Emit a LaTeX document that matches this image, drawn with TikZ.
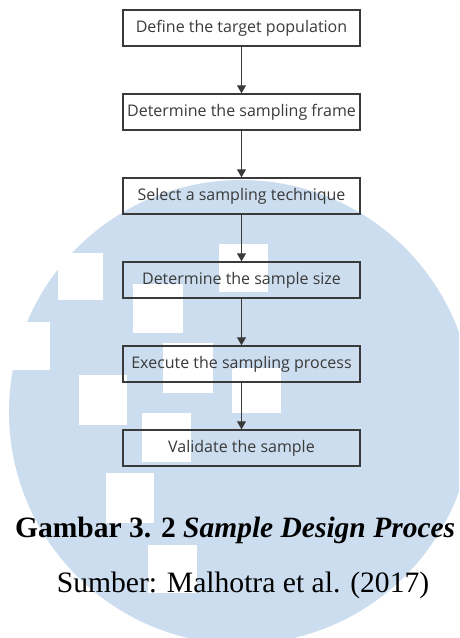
\documentclass[tikz,border=0pt]{standalone}
\usepackage{fontspec}
\setmainfont{Liberation Serif}
\newfontfamily\boxfont{Open Sans}
\usetikzlibrary{arrows.meta}
\definecolor{wmblue}{RGB}{203,221,238}
\definecolor{inkgray}{RGB}{58,58,58}

\begin{document}
\begin{tikzpicture}[x=1pt,y=-1pt,
  stepbox/.style={draw=inkgray, line width=1.4pt, minimum width=237pt,
    minimum height=36pt, inner sep=0pt, text=inkgray,
    font=\boxfont\fontsize{16}{19}\selectfont},
  flow/.style={draw=inkgray, line width=1.1pt,
    -{Triangle[width=9pt,length=8pt]}},
  wmsquare/.style={fill=white}]
\useasboundingbox (0,0) rectangle (459,638);

% background emblem: pale disc with white squares
\begin{scope}
  \clip (0,0) rectangle (459,638);
  \fill[wmblue] (241,412) circle[radius=232];
  \foreach \xa/\ya/\xb/\yb in {58/253/103/300, 133/284/183/333, 219/244/268/292,
      0/322/50/370, 163/343/213/393, 232/368/281/413, 79/375/127/425,
      142/413/191/462, 106/473/154/523, 148/545/197/593}
    \fill[wmsquare] (\xa,\ya) rectangle (\xb,\yb);
\end{scope}

% process steps
\node[stepbox] (s1) at (241.5,28)  {Define the target population};
\node[stepbox] (s2) at (241.5,112) {Determine the sampling frame};
\node[stepbox] (s3) at (241.5,196) {Select a sampling technique};
\node[stepbox] (s4) at (241.5,280) {Determine the sample size};
\node[stepbox] (s5) at (241.5,364) {Execute the sampling process};
\node[stepbox] (s6) at (241.5,448) {Validate the sample};

\foreach \a/\b in {s1/s2, s2/s3, s3/s4, s4/s5, s5/s6}
  \draw[flow] (\a) -- (\b);

% caption and source
\node[anchor=base west, inner sep=0pt, font=\bfseries\fontsize{29.5}{35}\selectfont]
  (cap) at (15,537) {Gambar 3. 2 \textit{Sample Design Proces}};
\node[anchor=base, inner sep=0pt, font=\fontsize{29.6}{35}\selectfont]
  (src) at (243,592) {Sumber: Malhotra et al. (2017)};
\end{tikzpicture}
\end{document}
